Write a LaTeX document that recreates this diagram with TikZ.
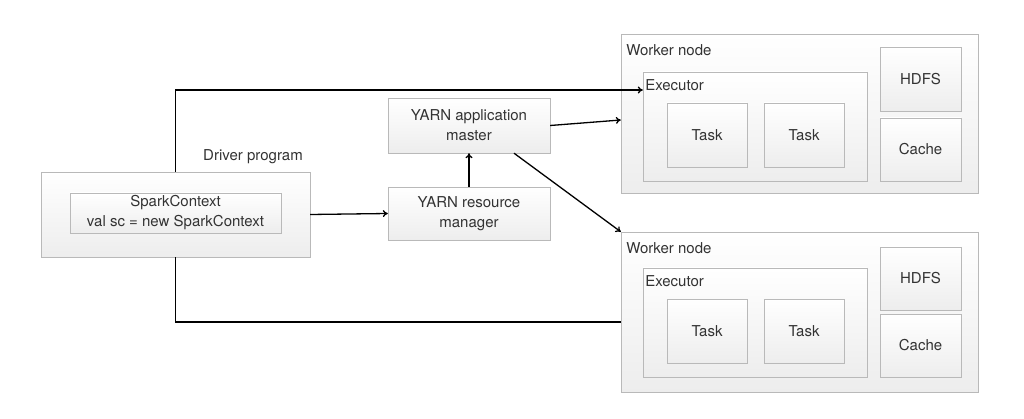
\documentclass[tikz,border=0pt]{standalone}
\usepackage{fontspec}
\setmainfont{TeX Gyre Heros}
\usetikzlibrary{positioning}
\usetikzlibrary{arrows.meta}

\begin{document}
\begin{tikzpicture}[x=1pt,y=-1pt,semithick,
box/.style ={draw=gray!55, thin, top color=white, bottom color=gray!14, align=center, inner sep=0pt,
  font=\fontsize{15}{20}\selectfont, text=black!80},
lbl/.style ={font=\fontsize{15}{20}\selectfont, text=black!80, inner sep=0pt},
arr/.style ={-{To[length=5pt,width=7pt]}, line width=1.3pt}]
\useasboundingbox (0,0) rectangle (1024,419);
% driver side
\node[box, minimum width=269, minimum height=85] (drv) at (175.5,214.5) {};
\node[box, minimum width=211, minimum height=40] (sc) at (175.5,213) {SparkContext\\val sc = new SparkContext};
\node[lbl] (drvlbl) at (253,157) {Driver program};
\node[box, minimum width=162, minimum height=53] (rm) at (469,213.5) {YARN resource\\manager};
\node[box, minimum width=162, minimum height=55] (am) at (469,125.5) {YARN application\\master};
% worker nodes
\node[box, minimum width=357, minimum height=159] (wk1) at (799.5,113.5) {};
\node[lbl, anchor=north west] (wk1lbl) at (626,44) {Worker node};
\node[box, minimum width=224, minimum height=109] (ex1) at (755,126.5) {};
\node[lbl, anchor=north west] (ex1lbl) at (645,79) {Executor};
\node[box, minimum width=80, minimum height=64] (t11) at (707,135) {Task};
\node[box, minimum width=80, minimum height=64] (t12) at (804,135) {Task};
\node[box, minimum width=81, minimum height=64] (hd1) at (920.5,79) {HDFS};
\node[box, minimum width=81, minimum height=63] (ca1) at (920.5,149.5) {Cache};
\node[box, minimum width=357, minimum height=160] (wk2) at (799.5,312) {};
\node[lbl, anchor=north west] (wk2lbl) at (626,242) {Worker node};
\node[box, minimum width=224, minimum height=109] (ex2) at (755,322.5) {};
\node[lbl, anchor=north west] (ex2lbl) at (645,275) {Executor};
\node[box, minimum width=80, minimum height=64] (t21) at (707,331) {Task};
\node[box, minimum width=80, minimum height=64] (t22) at (804,331) {Task};
\node[box, minimum width=81, minimum height=63] (hd2) at (920.5,278.5) {HDFS};
\node[box, minimum width=81, minimum height=63] (ca2) at (920.5,345.5) {Cache};
% connectors
\draw[arr] (drv.north) |- (ex1.west |- 0,90);
\draw[line width=1.3pt] (drv.south) |- (wk2.west |- 0,322);
\draw[arr] (drv.east) -- (rm.west);
\draw[arr] (rm.north) -- (am.south);
\draw[arr] (am.east) -- (wk1.west |- 0,120);
\draw[arr] ([xshift=45]am.south) -- (wk2.north west);
\end{tikzpicture}
\end{document}
